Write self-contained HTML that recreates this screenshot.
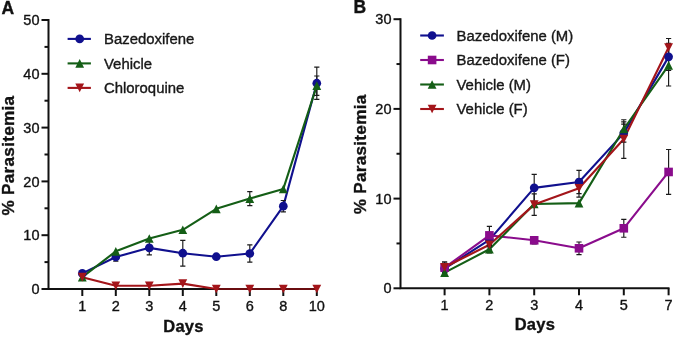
<!DOCTYPE html><html><head><meta charset="utf-8"><style>html,body{margin:0;padding:0;background:#fff;width:675px;height:337px;overflow:hidden}svg{display:block;filter:blur(0.3px)}text{stroke:#111;stroke-width:0.35px}</style></head><body>
<svg width="675" height="337" viewBox="0 0 675 337" font-family='"Liberation Sans", sans-serif' fill="#111">
<path d="M48.50 19.10V290.00M47.50 289.00H318.00" stroke="#111" stroke-width="2" fill="none"/>
<path d="M41.50 289.00H48.5" stroke="#111" stroke-width="2"/>
<text x="39.50" y="294.10" text-anchor="end" font-size="14.5">0</text>
<path d="M44.50 262.10H48.5" stroke="#111" stroke-width="2"/>
<path d="M41.50 235.20H48.5" stroke="#111" stroke-width="2"/>
<text x="39.50" y="240.30" text-anchor="end" font-size="14.5">10</text>
<path d="M44.50 208.30H48.5" stroke="#111" stroke-width="2"/>
<path d="M41.50 181.40H48.5" stroke="#111" stroke-width="2"/>
<text x="39.50" y="186.50" text-anchor="end" font-size="14.5">20</text>
<path d="M44.50 154.50H48.5" stroke="#111" stroke-width="2"/>
<path d="M41.50 127.60H48.5" stroke="#111" stroke-width="2"/>
<text x="39.50" y="132.70" text-anchor="end" font-size="14.5">30</text>
<path d="M44.50 100.70H48.5" stroke="#111" stroke-width="2"/>
<path d="M41.50 73.80H48.5" stroke="#111" stroke-width="2"/>
<text x="39.50" y="78.90" text-anchor="end" font-size="14.5">40</text>
<path d="M44.50 46.90H48.5" stroke="#111" stroke-width="2"/>
<path d="M41.50 20.00H48.5" stroke="#111" stroke-width="2"/>
<text x="39.50" y="25.10" text-anchor="end" font-size="14.5">50</text>
<path d="M82.30 289.00V296.00" stroke="#111" stroke-width="2"/>
<text x="82.30" y="310.80" text-anchor="middle" font-size="14.5">1</text>
<path d="M115.80 289.00V296.00" stroke="#111" stroke-width="2"/>
<text x="115.80" y="310.80" text-anchor="middle" font-size="14.5">2</text>
<path d="M149.30 289.00V296.00" stroke="#111" stroke-width="2"/>
<text x="149.30" y="310.80" text-anchor="middle" font-size="14.5">3</text>
<path d="M182.80 289.00V296.00" stroke="#111" stroke-width="2"/>
<text x="182.80" y="310.80" text-anchor="middle" font-size="14.5">4</text>
<path d="M216.30 289.00V296.00" stroke="#111" stroke-width="2"/>
<text x="216.30" y="310.80" text-anchor="middle" font-size="14.5">5</text>
<path d="M249.80 289.00V296.00" stroke="#111" stroke-width="2"/>
<text x="249.80" y="310.80" text-anchor="middle" font-size="14.5">6</text>
<path d="M283.30 289.00V296.00" stroke="#111" stroke-width="2"/>
<text x="283.30" y="310.80" text-anchor="middle" font-size="14.5">8</text>
<path d="M316.80 289.00V296.00" stroke="#111" stroke-width="2"/>
<text x="316.80" y="310.80" text-anchor="middle" font-size="14.5">10</text>
<text x="183.50" y="332.00" text-anchor="middle" font-size="16.5" font-weight="bold" letter-spacing="0.25">Days</text>
<text transform="translate(13.80,155.60) rotate(-90)" text-anchor="middle" font-size="17.2" font-weight="bold" letter-spacing="0.25">% Parasitemia</text>
<text x="1.60" y="13.80" font-size="17.5" font-weight="bold">A</text>
<polyline points="82.30,273.40 115.80,256.99 149.30,247.84 182.80,253.22 216.30,256.72 249.80,253.49 283.30,206.15 316.80,83.22" fill="none" stroke="#10108e" stroke-width="2.1" stroke-linejoin="round"/>
<polyline points="82.30,277.16 115.80,251.34 149.30,238.43 182.80,229.82 216.30,208.84 249.80,198.62 283.30,188.93 316.80,85.64" fill="none" stroke="#145e16" stroke-width="2.1" stroke-linejoin="round"/>
<polyline points="82.30,277.16 115.80,285.77 149.30,285.77 182.80,283.62 216.30,289.00 249.80,289.00 283.30,289.00 316.80,289.00" fill="none" stroke="#a3151a" stroke-width="2.1" stroke-linejoin="round"/>
<path d="M216.30 289.00H318.00" stroke="#000" stroke-opacity="0.35" stroke-width="2"/>
<path d="M115.80 252.69V261.29M113.20 252.69H118.40M113.20 261.29H118.40" stroke="#1a1a1a" stroke-width="1.15" fill="none"/>
<path d="M149.30 240.85V254.84M146.70 240.85H151.90M146.70 254.84H151.90" stroke="#1a1a1a" stroke-width="1.15" fill="none"/>
<path d="M182.80 240.31V266.13M180.20 240.31H185.40M180.20 266.13H185.40" stroke="#1a1a1a" stroke-width="1.15" fill="none"/>
<path d="M249.80 244.88V262.10M247.20 244.88H252.40M247.20 262.10H252.40" stroke="#1a1a1a" stroke-width="1.15" fill="none"/>
<path d="M283.30 200.50V211.80M280.70 200.50H285.90M280.70 211.80H285.90" stroke="#1a1a1a" stroke-width="1.15" fill="none"/>
<path d="M316.80 67.08V99.35M314.20 67.08H319.40M314.20 99.35H319.40" stroke="#1a1a1a" stroke-width="1.15" fill="none"/>
<path d="M249.80 191.62V205.61M247.20 191.62H252.40M247.20 205.61H252.40" stroke="#1a1a1a" stroke-width="1.15" fill="none"/>
<path d="M316.80 75.95V95.32M314.20 75.95H319.40M314.20 95.32H319.40" stroke="#1a1a1a" stroke-width="1.15" fill="none"/>
<circle cx="82.30" cy="273.40" r="4.35" fill="#10108e"/>
<circle cx="115.80" cy="256.99" r="4.35" fill="#10108e"/>
<circle cx="149.30" cy="247.84" r="4.35" fill="#10108e"/>
<circle cx="182.80" cy="253.22" r="4.35" fill="#10108e"/>
<circle cx="216.30" cy="256.72" r="4.35" fill="#10108e"/>
<circle cx="249.80" cy="253.49" r="4.35" fill="#10108e"/>
<circle cx="283.30" cy="206.15" r="4.35" fill="#10108e"/>
<circle cx="316.80" cy="83.22" r="4.35" fill="#10108e"/>
<polygon points="82.30,272.86 86.70,281.46 77.90,281.46" fill="#145e16"/>
<polygon points="115.80,247.04 120.20,255.64 111.40,255.64" fill="#145e16"/>
<polygon points="149.30,234.13 153.70,242.73 144.90,242.73" fill="#145e16"/>
<polygon points="182.80,225.52 187.20,234.12 178.40,234.12" fill="#145e16"/>
<polygon points="216.30,204.54 220.70,213.14 211.90,213.14" fill="#145e16"/>
<polygon points="249.80,194.32 254.20,202.92 245.40,202.92" fill="#145e16"/>
<polygon points="283.30,184.63 287.70,193.23 278.90,193.23" fill="#145e16"/>
<polygon points="316.80,81.34 321.20,89.94 312.40,89.94" fill="#145e16"/>
<polygon points="77.90,272.86 86.70,272.86 82.30,281.46" fill="#a3151a"/>
<polygon points="111.40,281.47 120.20,281.47 115.80,290.07" fill="#a3151a"/>
<polygon points="144.90,281.47 153.70,281.47 149.30,290.07" fill="#a3151a"/>
<polygon points="178.40,279.32 187.20,279.32 182.80,287.92" fill="#a3151a"/>
<polygon points="211.90,284.70 220.70,284.70 216.30,293.30" fill="#a3151a"/>
<polygon points="245.40,284.70 254.20,284.70 249.80,293.30" fill="#a3151a"/>
<polygon points="278.90,284.70 287.70,284.70 283.30,293.30" fill="#a3151a"/>
<polygon points="312.40,284.70 321.20,284.70 316.80,293.30" fill="#a3151a"/>
<path d="M67.60 38.90H90.90" stroke="#10108e" stroke-width="2.1"/>
<circle cx="79.70" cy="38.90" r="4.35" fill="#10108e"/>
<text x="104.00" y="44.10" font-size="14.9" fill="#1a1a1a">Bazedoxifene</text>
<path d="M67.60 63.40H90.90" stroke="#145e16" stroke-width="2.1"/>
<polygon points="79.70,59.10 84.10,67.70 75.30,67.70" fill="#145e16"/>
<text x="104.00" y="68.60" font-size="14.9" fill="#1a1a1a">Vehicle</text>
<path d="M67.60 87.90H90.90" stroke="#a3151a" stroke-width="2.1"/>
<polygon points="75.30,83.60 84.10,83.60 79.70,92.20" fill="#a3151a"/>
<text x="104.00" y="93.10" font-size="14.9" fill="#1a1a1a">Chloroquine</text>
<path d="M400.50 18.30V289.30M399.50 288.30H669.50" stroke="#111" stroke-width="2" fill="none"/>
<path d="M393.50 288.30H400.5" stroke="#111" stroke-width="2"/>
<text x="391.50" y="293.40" text-anchor="end" font-size="14.5">0</text>
<path d="M396.50 243.45H400.5" stroke="#111" stroke-width="2"/>
<path d="M393.50 198.60H400.5" stroke="#111" stroke-width="2"/>
<text x="391.50" y="203.70" text-anchor="end" font-size="14.5">10</text>
<path d="M396.50 153.75H400.5" stroke="#111" stroke-width="2"/>
<path d="M393.50 108.90H400.5" stroke="#111" stroke-width="2"/>
<text x="391.50" y="114.00" text-anchor="end" font-size="14.5">20</text>
<path d="M396.50 64.05H400.5" stroke="#111" stroke-width="2"/>
<path d="M393.50 19.20H400.5" stroke="#111" stroke-width="2"/>
<text x="391.50" y="24.30" text-anchor="end" font-size="14.5">30</text>
<path d="M444.60 288.30V295.30" stroke="#111" stroke-width="2"/>
<text x="444.60" y="310.30" text-anchor="middle" font-size="14.5">1</text>
<path d="M489.40 288.30V295.30" stroke="#111" stroke-width="2"/>
<text x="489.40" y="310.30" text-anchor="middle" font-size="14.5">2</text>
<path d="M534.20 288.30V295.30" stroke="#111" stroke-width="2"/>
<text x="534.20" y="310.30" text-anchor="middle" font-size="14.5">3</text>
<path d="M579.00 288.30V295.30" stroke="#111" stroke-width="2"/>
<text x="579.00" y="310.30" text-anchor="middle" font-size="14.5">4</text>
<path d="M623.80 288.30V295.30" stroke="#111" stroke-width="2"/>
<text x="623.80" y="310.30" text-anchor="middle" font-size="14.5">5</text>
<path d="M668.60 288.30V295.30" stroke="#111" stroke-width="2"/>
<text x="668.60" y="310.30" text-anchor="middle" font-size="14.5">7</text>
<text x="534.90" y="329.70" text-anchor="middle" font-size="16.5" font-weight="bold" letter-spacing="0.25">Days</text>
<text transform="translate(366.40,154.40) rotate(-90)" text-anchor="middle" font-size="17.2" font-weight="bold" letter-spacing="0.25">% Parasitemia</text>
<text x="353.50" y="12.80" font-size="17.5" font-weight="bold">B</text>
<polyline points="444.60,268.57 489.40,239.86 534.20,187.84 579.00,182.01 623.80,133.12 668.60,56.87" fill="none" stroke="#10108e" stroke-width="2.1" stroke-linejoin="round"/>
<polyline points="444.60,267.67 489.40,235.38 534.20,240.31 579.00,248.29 623.80,228.29 668.60,171.96" fill="none" stroke="#8a0c8c" stroke-width="2.1" stroke-linejoin="round"/>
<polyline points="444.60,272.60 489.40,249.28 534.20,203.98 579.00,203.09 623.80,128.99 668.60,65.40" fill="none" stroke="#145e16" stroke-width="2.1" stroke-linejoin="round"/>
<polyline points="444.60,267.22 489.40,244.80 534.20,204.61 579.00,188.19 623.80,139.04 668.60,47.46" fill="none" stroke="#a3151a" stroke-width="2.1" stroke-linejoin="round"/>
<path d="M444.60 264.08V273.05M442.00 264.08H447.20M442.00 273.05H447.20" stroke="#1a1a1a" stroke-width="1.15" fill="none"/>
<path d="M489.40 232.69V247.04M486.80 232.69H492.00M486.80 247.04H492.00" stroke="#1a1a1a" stroke-width="1.15" fill="none"/>
<path d="M534.20 174.38V201.29M531.60 174.38H536.80M531.60 201.29H536.80" stroke="#1a1a1a" stroke-width="1.15" fill="none"/>
<path d="M579.00 170.34V193.67M576.40 170.34H581.60M576.40 193.67H581.60" stroke="#1a1a1a" stroke-width="1.15" fill="none"/>
<path d="M623.80 124.15V142.09M621.20 124.15H626.40M621.20 142.09H626.40" stroke="#1a1a1a" stroke-width="1.15" fill="none"/>
<path d="M668.60 43.42V70.33M666.00 43.42H671.20M666.00 70.33H671.20" stroke="#1a1a1a" stroke-width="1.15" fill="none"/>
<path d="M444.60 263.18V272.15M442.00 263.18H447.20M442.00 272.15H447.20" stroke="#1a1a1a" stroke-width="1.15" fill="none"/>
<path d="M489.40 226.41V244.35M486.80 226.41H492.00M486.80 244.35H492.00" stroke="#1a1a1a" stroke-width="1.15" fill="none"/>
<path d="M534.20 236.72V243.90M531.60 236.72H536.80M531.60 243.90H536.80" stroke="#1a1a1a" stroke-width="1.15" fill="none"/>
<path d="M579.00 242.01V254.57M576.40 242.01H581.60M576.40 254.57H581.60" stroke="#1a1a1a" stroke-width="1.15" fill="none"/>
<path d="M623.80 219.32V237.26M621.20 219.32H626.40M621.20 237.26H626.40" stroke="#1a1a1a" stroke-width="1.15" fill="none"/>
<path d="M668.60 149.53V194.38M666.00 149.53H671.20M666.00 194.38H671.20" stroke="#1a1a1a" stroke-width="1.15" fill="none"/>
<path d="M444.60 269.01V276.19M442.00 269.01H447.20M442.00 276.19H447.20" stroke="#1a1a1a" stroke-width="1.15" fill="none"/>
<path d="M489.40 245.69V252.87M486.80 245.69H492.00M486.80 252.87H492.00" stroke="#1a1a1a" stroke-width="1.15" fill="none"/>
<path d="M623.80 121.82V136.17M621.20 121.82H626.40M621.20 136.17H626.40" stroke="#1a1a1a" stroke-width="1.15" fill="none"/>
<path d="M668.60 44.76V86.03M666.00 44.76H671.20M666.00 86.03H671.20" stroke="#1a1a1a" stroke-width="1.15" fill="none"/>
<path d="M444.60 261.84V272.60M442.00 261.84H447.20M442.00 272.60H447.20" stroke="#1a1a1a" stroke-width="1.15" fill="none"/>
<path d="M489.40 240.31V249.28M486.80 240.31H492.00M486.80 249.28H492.00" stroke="#1a1a1a" stroke-width="1.15" fill="none"/>
<path d="M534.20 193.85V215.37M531.60 193.85H536.80M531.60 215.37H536.80" stroke="#1a1a1a" stroke-width="1.15" fill="none"/>
<path d="M579.00 179.22V197.16M576.40 179.22H581.60M576.40 197.16H581.60" stroke="#1a1a1a" stroke-width="1.15" fill="none"/>
<path d="M623.80 119.75V158.32M621.20 119.75H626.40M621.20 158.32H626.40" stroke="#1a1a1a" stroke-width="1.15" fill="none"/>
<path d="M668.60 38.49V56.43M666.00 38.49H671.20M666.00 56.43H671.20" stroke="#1a1a1a" stroke-width="1.15" fill="none"/>
<circle cx="444.60" cy="268.57" r="4.35" fill="#10108e"/>
<circle cx="489.40" cy="239.86" r="4.35" fill="#10108e"/>
<circle cx="534.20" cy="187.84" r="4.35" fill="#10108e"/>
<circle cx="579.00" cy="182.01" r="4.35" fill="#10108e"/>
<circle cx="623.80" cy="133.12" r="4.35" fill="#10108e"/>
<circle cx="668.60" cy="56.87" r="4.35" fill="#10108e"/>
<rect x="440.30" y="263.37" width="8.60" height="8.60" fill="#8a0c8c"/>
<rect x="485.10" y="231.08" width="8.60" height="8.60" fill="#8a0c8c"/>
<rect x="529.90" y="236.01" width="8.60" height="8.60" fill="#8a0c8c"/>
<rect x="574.70" y="243.99" width="8.60" height="8.60" fill="#8a0c8c"/>
<rect x="619.50" y="223.99" width="8.60" height="8.60" fill="#8a0c8c"/>
<rect x="664.30" y="167.66" width="8.60" height="8.60" fill="#8a0c8c"/>
<polygon points="444.60,268.30 449.00,276.90 440.20,276.90" fill="#145e16"/>
<polygon points="489.40,244.98 493.80,253.58 485.00,253.58" fill="#145e16"/>
<polygon points="534.20,199.68 538.60,208.28 529.80,208.28" fill="#145e16"/>
<polygon points="579.00,198.78 583.40,207.39 574.60,207.39" fill="#145e16"/>
<polygon points="623.80,124.69 628.20,133.29 619.40,133.29" fill="#145e16"/>
<polygon points="668.60,61.10 673.00,69.70 664.20,69.70" fill="#145e16"/>
<polygon points="440.20,262.92 449.00,262.92 444.60,271.52" fill="#a3151a"/>
<polygon points="485.00,240.50 493.80,240.50 489.40,249.10" fill="#a3151a"/>
<polygon points="529.80,200.31 538.60,200.31 534.20,208.91" fill="#a3151a"/>
<polygon points="574.60,183.89 583.40,183.89 579.00,192.49" fill="#a3151a"/>
<polygon points="619.40,134.74 628.20,134.74 623.80,143.34" fill="#a3151a"/>
<polygon points="664.20,43.16 673.00,43.16 668.60,51.76" fill="#a3151a"/>
<path d="M420.20 35.50H443.90" stroke="#10108e" stroke-width="2.1"/>
<circle cx="432.10" cy="35.50" r="4.35" fill="#10108e"/>
<text x="456.50" y="40.70" font-size="14.9" fill="#1a1a1a">Bazedoxifene (M)</text>
<path d="M420.20 60.00H443.90" stroke="#8a0c8c" stroke-width="2.1"/>
<rect x="427.80" y="55.70" width="8.60" height="8.60" fill="#8a0c8c"/>
<text x="456.50" y="65.20" font-size="14.9" fill="#1a1a1a">Bazedoxifene (F)</text>
<path d="M420.20 84.50H443.90" stroke="#145e16" stroke-width="2.1"/>
<polygon points="432.10,80.20 436.50,88.80 427.70,88.80" fill="#145e16"/>
<text x="456.50" y="89.70" font-size="14.9" fill="#1a1a1a">Vehicle (M)</text>
<path d="M420.20 109.00H443.90" stroke="#a3151a" stroke-width="2.1"/>
<polygon points="427.70,104.70 436.50,104.70 432.10,113.30" fill="#a3151a"/>
<text x="456.50" y="114.20" font-size="14.9" fill="#1a1a1a">Vehicle (F)</text>
</svg></body></html>
